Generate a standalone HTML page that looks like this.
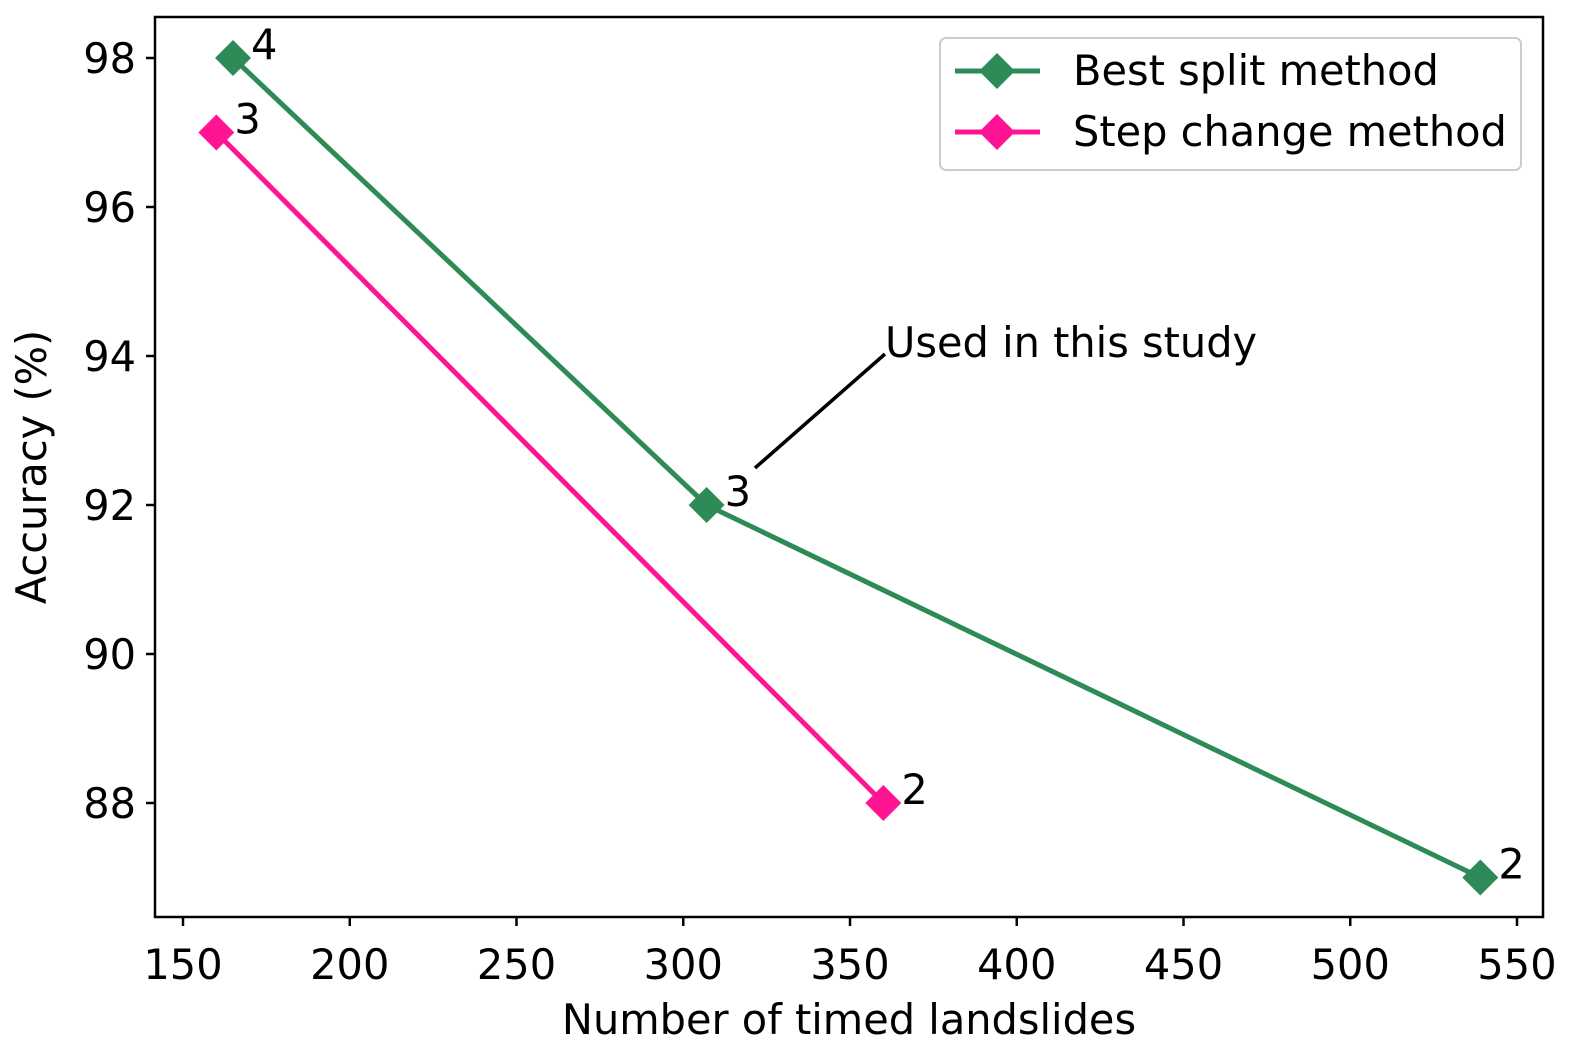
<!DOCTYPE html>
<html><head><meta charset="utf-8"><style>
html,body{margin:0;padding:0;background:#fff;}
svg{display:block;font-family:"DejaVu Sans","Liberation Sans",sans-serif;}
</style></head><body>
<svg id="chart" width="1575" height="1056" viewBox="0 0 1575 1056">
<rect x="155" y="17" width="1388" height="900" fill="none" stroke="#000" stroke-width="2.5"/>
<g id="xticks"></g>
<g id="yticks"></g>
<g id="series"></g>
<text x="849" y="1034" font-size="41.5" text-anchor="middle">Number of timed landslides</text>
<text transform="translate(46,467) rotate(-90)" font-size="41.5" text-anchor="middle">Accuracy (%)</text>
<line x1="755" y1="468" x2="885" y2="354" stroke="#000" stroke-width="3.5"/>
<text x="885" y="357" font-size="41.5">Used in this study</text>
<g>
<rect x="940" y="38" width="581" height="132" rx="6" fill="#fff" stroke="#ccc" stroke-width="2"/>
<g>
<line x1="955" y1="71" x2="1040" y2="71" stroke="#2e8b57" stroke-width="5"/>
<polygon points="997,53 1015,71 997,89 979,71" fill="#2e8b57"/>
<text x="1073" y="85" font-size="41.5">Best split method</text></g>
<g>
<line x1="955" y1="132" x2="1040" y2="132" stroke="#ff1493" stroke-width="5"/>
<polygon points="997,114 1015,132 997,150 979,132" fill="#ff1493"/>
<text x="1073" y="146" font-size="41.5">Step change method</text></g>
</g>
</svg>
<script>
const xTicks=[150,200,250,300,350,400,450,500,550];
const yTicks=[88,90,92,94,96,98];
const bestX=[165,307,539];
const bestY=[98,92,87];
const bestLabels=["4","3","2"];
const stepX=[160,360];
const stepY=[97,88];
const stepLabels=["3","2"];
const NS="http://www.w3.org/2000/svg";
function sx(v){return 183+(v-150)*(1517-183)/400;}
function sy(v){return 58+(98-v)*(803-58)/10;}
function mk(tag,attrs,parent){const e=document.createElementNS(NS,tag);for(const k in attrs)e.setAttribute(k,attrs[k]);parent.appendChild(e);return e;}
const xg=document.getElementById('xticks'),yg=document.getElementById('yticks'),sg=document.getElementById('series');
xTicks.forEach(t=>{const x=sx(t);
const l=mk('line',{x1:x,y1:917,x2:x,y2:926,stroke:'#000','stroke-width':2.5},xg);


const tx=mk('text',{x:x,y:979,'font-size':41.5,'text-anchor':'middle'},xg);tx.textContent=t;

});
yTicks.forEach(t=>{const y=sy(t);
const l=mk('line',{x1:146,y1:y,x2:155,y2:y,stroke:'#000','stroke-width':2.5},yg);


const tx=mk('text',{x:136,y:y+15,'font-size':41.5,'text-anchor':'end'},yg);tx.textContent=t;

});
function drawSeries(xs,ys,labels,color,name){
const pts=xs.map((x,i)=>sx(x)+','+sy(ys[i])).join(' ');
const pl=mk('polyline',{points:pts,fill:'none',stroke:color,'stroke-width':5},sg);


xs.forEach((x,i)=>{const cx=sx(x),cy=sy(ys[i]),r=18;
const p=mk('polygon',{points:`${cx},${cy-r} ${cx+r},${cy} ${cx},${cy+r} ${cx-r},${cy}`,fill:color},sg);


const t=mk('text',{x:cx+18,y:cy+1,'font-size':41.5},sg);t.textContent=labels[i];

});}
drawSeries(stepX,stepY,stepLabels,'#ff1493','step-change');
drawSeries(bestX,bestY,bestLabels,'#2e8b57','best-split');
</script>
</body></html>
